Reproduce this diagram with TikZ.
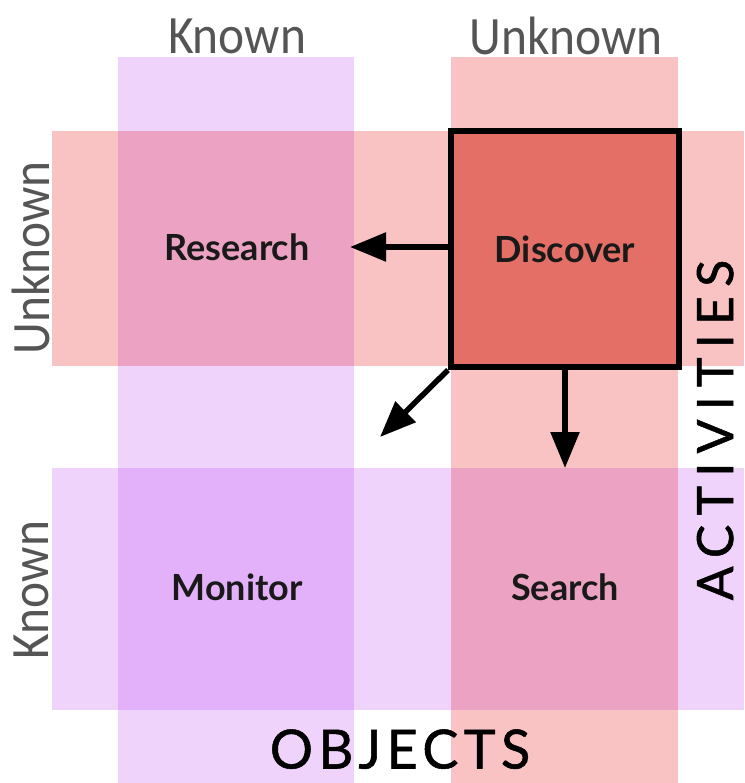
\documentclass[tikz,border=0pt]{standalone}
\usepackage{fontspec}
\setmainfont{Lato}
\newfontfamily\titlefont{Carlito}
\newfontfamily\objfont[LetterSpace=10,FakeBold=1]{Lato}
\newfontfamily\actfont[LetterSpace=18.5,FakeBold=1]{Lato}
\usetikzlibrary{arrows.meta}
\definecolor{lpurple}{HTML}{EFD3FB}
\definecolor{lred}{HTML}{F9C3C3}
\definecolor{dpurple}{HTML}{E3B1F9}
\definecolor{mixed}{HTML}{ECA3C3}
\definecolor{dred}{HTML}{E36F67}
\definecolor{titlegray}{HTML}{555555}
\tikzset{
  title/.style={font=\titlefont\fontsize{54}{54}\selectfont, text=titlegray, inner sep=0pt},
  quad/.style={font=\bfseries\fontsize{36}{36}\selectfont, text=black!90, inner sep=0pt},
  objlabel/.style={font=\objfont\fontsize{54}{54}\selectfont, text=black, inner sep=0pt, text height=39pt, text depth=0pt},
  actlabel/.style={font=\actfont\fontsize{50}{50}\selectfont, text=black, inner sep=0pt, text height=36pt, text depth=0pt},
  arr/.style={line width=5.5pt, -{Triangle[length=36pt,width=28pt]}},
  discbox/.style={draw=black, line width=6pt, fill=dred, minimum width=228pt, minimum height=236pt, inner sep=0pt, font=\bfseries\fontsize{36}{36}\selectfont, text=black!90}
}
\begin{document}
\begin{tikzpicture}[x=1pt,y=-1pt]
\useasboundingbox (0,0) rectangle (744,783);
% columns
\fill[lpurple] (118,57) rectangle (354,783);
\fill[lred] (451,57) rectangle (678,783);
% rows
\fill[lred] (52,131) rectangle (744,366);
\fill[lpurple] (52,468) rectangle (744,710);
% overlaps
\fill[mixed] (118,131) rectangle (354,366);
\fill[dpurple] (118,468) rectangle (354,710);
\fill[mixed] (451,468) rectangle (678,710);
% column titles
\node[title] (tknown) at (237,36) {\scalebox{0.915}[1]{Known}};
\node[title] (tunknown) at (566,36) {\scalebox{0.915}[1]{Unknown}};
% row titles
\node[title, rotate=90] (rUnknown) at (31,258) {\scalebox{0.915}[1]{Unknown}};
\node[title, rotate=90] (rKnown) at (31,590) {\scalebox{0.915}[1]{Known}};
% quadrants
\node[quad] (research) at (237,247) {Research};
\node[quad] (monitor) at (237,587) {Monitor};
\node[quad] (search) at (565,587) {Search};
\node[discbox] (discover) at (565,249) {Discover};
% axis labels
\node[objlabel] (objects) at (400,749) {OBJECTS};
\node[actlabel, rotate=90] (activities) at (715,430) {ACTIVITIES};
% arrow ends
\coordinate (tipL) at (350,247);
\coordinate (tipD) at (380,437);
\coordinate (tipS) at (565,468);
\draw[arr] (discover.west |- tipL) -- (tipL);
\draw[arr] (discover.south west) -- (tipD);
\draw[arr] (discover.south) -- (tipS);
\end{tikzpicture}
\end{document}
